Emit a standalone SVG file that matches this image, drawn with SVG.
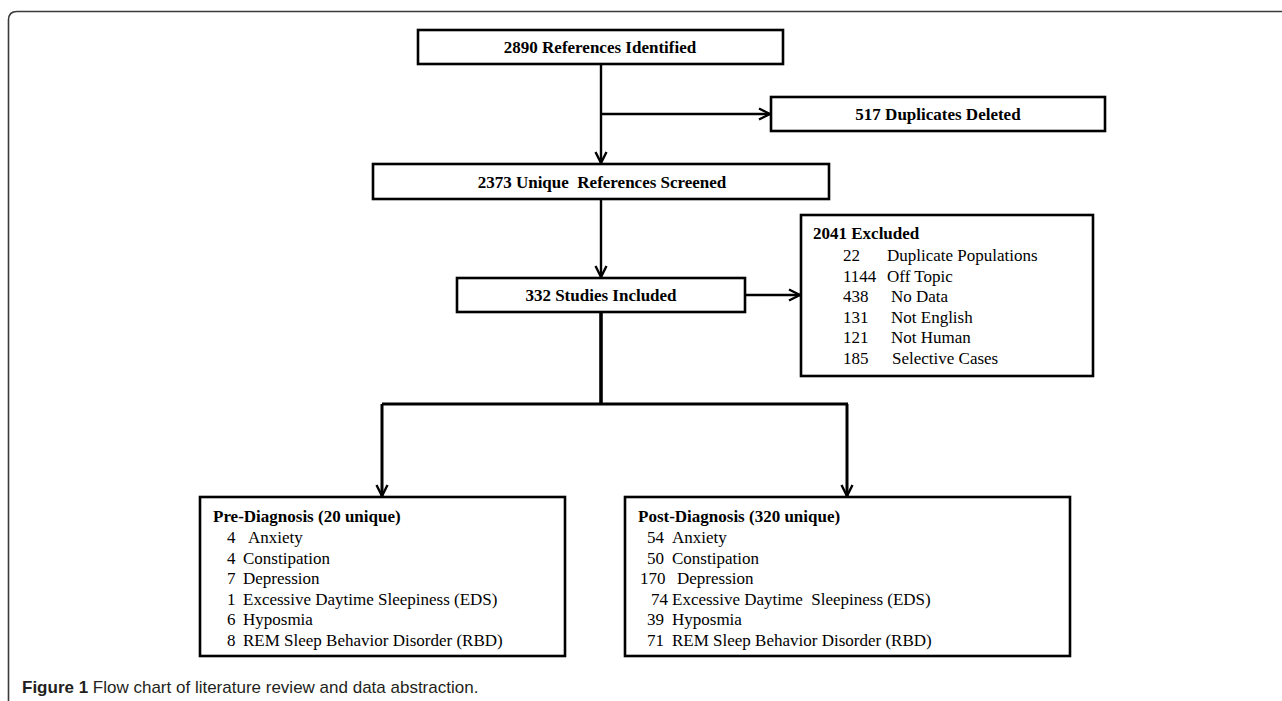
<svg xmlns="http://www.w3.org/2000/svg" width="1282" height="701" viewBox="0 0 1282 701">
<style>
.frame{fill:none;stroke:#3a3a3a;stroke-width:1.6}
.box{fill:#fff;stroke:#000;stroke-width:2.6}
.hd{font-family:"Liberation Serif","Times New Roman",serif;font-weight:bold;font-size:17px;fill:#000;white-space:pre}
.tx{font-family:"Liberation Serif","Times New Roman",serif;font-size:17px;fill:#000;white-space:pre}
.c{text-anchor:middle}
.ln{fill:none;stroke:#000;stroke-width:2.4}
.cap{font-family:"Liberation Sans",Arial,sans-serif;font-size:17px;fill:#231f20}
</style>
<defs>
<marker id="arr" viewBox="0 0 14 14" refX="12.5" refY="7" markerWidth="14" markerHeight="14" markerUnits="userSpaceOnUse" orient="auto">
<path d="M1.5,1.5 L12.5,7 L1.5,12.5" fill="none" stroke="#000" stroke-width="2.4"/>
</marker>
</defs>
<rect width="1282" height="701" fill="#fff"/>
<path class="frame" d="M8.5,701 V20 Q8.5,11.5 17,11.5 H1282"/>

<g id="connectors">
<path class="ln" d="M601,64 V163" marker-end="url(#arr)"/>
<path class="ln" d="M601,114 H770" marker-end="url(#arr)"/>
<path class="ln" d="M601,199 V277" marker-end="url(#arr)"/>
<path class="ln" d="M745,295 H800" marker-end="url(#arr)"/>
<path class="ln" d="M601,312 V404" style="stroke-width:3.6"/>
<path class="ln" d="M382,404 H848" style="stroke-width:3"/>
<path class="ln" d="M382,404 V496" style="stroke-width:3" marker-end="url(#arr)"/>
<path class="ln" d="M847,404 V496" style="stroke-width:3" marker-end="url(#arr)"/>
</g>

<g id="n-identified">
<rect class="box" x="418" y="30" width="365" height="34"/>
<text class="hd c" x="600" y="53">2890 References Identified</text>
</g>

<g id="n-duplicates">
<rect class="box" x="771" y="97" width="334" height="34"/>
<text class="hd c" x="938" y="120">517 Duplicates Deleted</text>
</g>

<g id="n-screened">
<rect class="box" x="373" y="164" width="456" height="35"/>
<text class="hd c" x="602" y="188" xml:space="preserve">2373 Unique  References Screened</text>
</g>

<g id="n-included">
<rect class="box" x="457" y="278" width="288" height="34"/>
<text class="hd c" x="601" y="301">332 Studies Included</text>
</g>

<g id="n-excluded">
<rect class="box" x="801" y="215" width="292" height="161"/>
<text class="hd" x="813" y="239">2041 Excluded</text>
<text class="tx" x="843" y="261">22</text><text class="tx" x="887" y="261">Duplicate Populations</text>
<text class="tx" x="843" y="282">1144</text><text class="tx" x="887" y="282">Off Topic</text>
<text class="tx" x="843" y="302">438</text><text class="tx" x="891" y="302">No Data</text>
<text class="tx" x="843" y="323">131</text><text class="tx" x="891" y="323">Not English</text>
<text class="tx" x="843" y="343">121</text><text class="tx" x="891" y="343">Not Human</text>
<text class="tx" x="843" y="364">185</text><text class="tx" x="892" y="364">Selective Cases</text>
</g>

<g id="n-pre">
<rect class="box" x="200" y="497" width="365" height="159"/>
<text class="hd" x="213" y="522">Pre-Diagnosis (20 unique)</text>
<text class="tx" x="227" y="543">4</text><text class="tx" x="248" y="543">Anxiety</text>
<text class="tx" x="227" y="564">4</text><text class="tx" x="243" y="564">Constipation</text>
<text class="tx" x="227" y="584">7</text><text class="tx" x="243" y="584">Depression</text>
<text class="tx" x="227" y="605">1</text><text class="tx" x="243" y="605">Excessive Daytime Sleepiness (EDS)</text>
<text class="tx" x="227" y="625">6</text><text class="tx" x="243" y="625">Hyposmia</text>
<text class="tx" x="227" y="646">8</text><text class="tx" x="243" y="646">REM Sleep Behavior Disorder (RBD)</text>
</g>

<g id="n-post">
<rect class="box" x="625" y="497" width="445" height="159"/>
<text class="hd" x="638" y="522">Post-Diagnosis (320 unique)</text>
<text class="tx" x="647" y="543">54</text><text class="tx" x="672" y="543">Anxiety</text>
<text class="tx" x="647" y="564">50</text><text class="tx" x="672" y="564">Constipation</text>
<text class="tx" x="640" y="584">170</text><text class="tx" x="677" y="584">Depression</text>
<text class="tx" x="651" y="605">74</text><text class="tx" x="672" y="605" xml:space="preserve">Excessive Daytime  Sleepiness (EDS)</text>
<text class="tx" x="647" y="625">39</text><text class="tx" x="672" y="625">Hyposmia</text>
<text class="tx" x="647" y="646">71</text><text class="tx" x="672" y="646">REM Sleep Behavior Disorder (RBD)</text>
</g>

<text class="cap" x="22" y="693"><tspan font-weight="bold">Figure 1</tspan> Flow chart of literature review and data abstraction.</text>
</svg>
